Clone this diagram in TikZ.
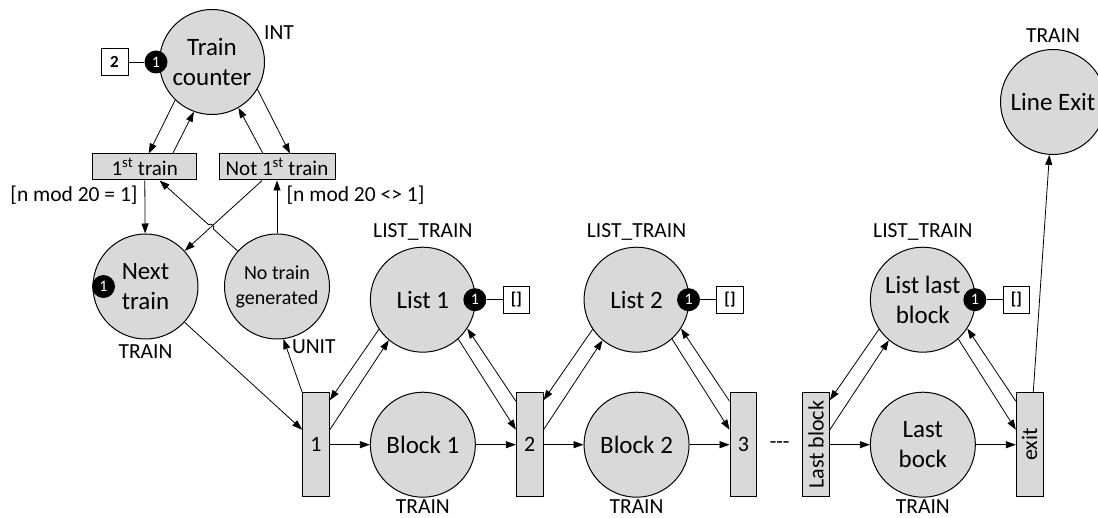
\documentclass[tikz,border=0pt]{standalone}
\usepackage{fontspec}
\setmainfont{Carlito}
\usepackage{xcolor}
\definecolor{PlaceGray}{HTML}{D9D9D9}
\usepackage{graphicx}
\usepackage{tikz}
\usetikzlibrary{arrows.meta,positioning,calc,intersections}
\newcommand{\fsz}[2]{\fontsize{#1}{#2}\selectfont}

\begin{document}
\begin{tikzpicture}[x=1pt,y=-1pt,
  place/.style={draw,circle,line width=1pt,fill=PlaceGray,minimum size=105pt,inner sep=0pt,align=center,font=\fsz{25}{30}},
  trans/.style={draw,line width=1pt,fill=PlaceGray,minimum width=26.7pt,minimum height=104pt,inner sep=0pt,font=\fsz{22}{26}},
  guardbox/.style={draw,line width=1pt,fill=PlaceGray,minimum height=26pt,inner sep=0pt,font=\fsz{21}{25}},
  token/.style={circle,fill=black,text=white,minimum size=23pt,inner sep=0pt,font=\fsz{16}{18}},
  valbox/.style={draw,line width=0.8pt,fill=white,minimum size=26.7pt,inner sep=0pt,font=\fsz{17}{20}\bfseries},
  lbl/.style={inner sep=0pt,font=\fsz{21.5}{25}},
  arr/.style={-{Triangle[length=10pt,width=7pt]},line width=0.8pt},
  node distance=40pt
]
  \useasboundingbox (0,0) rectangle (1098,518);

  % generator part
  \node[place] (counter) at (212,62) {Train\\counter};
  \node[guardbox,minimum width=104pt] (first) at (144.7,167) {1\textsuperscript{st} train};
  \node[guardbox,minimum width=116pt] (notfirst) at (277,167) {Not 1\textsuperscript{st} train};
  \node[place] (next) at (145.5,286.5) {Next\\train};
  \node[place,font=\fsz{20}{25}] (ntg) at (277,286.5) {No train\\generated};

  % line of blocks
  \node[trans] (t1) at (316,444.7) {1};
  \node[place,right=of t1] (block1) {Block 1};
  \node[trans,right=of block1] (t2) {2};
  \node[place,right=of t2] (block2) {Block 2};
  \node[trans,right=of block2] (t3) {3};
  \node[trans] (tlast) at (816,444.7) {\rotatebox{90}{Last block}};
  \node[lbl] (dots) at ($(t3)!0.5!(tlast)$) {-{}-{}-};
  \node[place,right=of tlast] (lastbock) {Last\\bock};
  \node[trans,right=of lastbock] (exit) {\rotatebox{90}{exit}};

  \node[place,above=39pt of block1] (list1) {List 1};
  \node[place,above=39pt of block2] (list2) {List 2};
  \node[place,above=39pt of lastbock] (listlast) {List last\\block};
  \node[place] (lineexit) at (1053,102) {Line Exit};

  % initial markings
  \node[token] (tok0) at ([xshift=-3pt]counter.west) {1};
  \node[valbox,left=16pt of tok0] (val0) {2};
  \draw[line width=0.8pt] (val0) -- (tok0);
  \node[token] (tok1) at ([xshift=11pt]next.west) {1};
  \foreach \p/\q in {list1/1,list2/2,listlast/3} {
    \node[token] (tokl\q) at ([xshift=-1pt]\p.east) {1};
    \node[valbox,right=16pt of tokl\q] (vall\q) {[]};
    \draw[line width=0.8pt] (vall\q) -- (tokl\q);
  }

  % colour sets and guards
  \node[lbl] (countertype) at (279,33) {INT};
  \node[lbl,above=6pt of lineexit] (exittype) {TRAIN};
  \node[lbl,below=5pt of next] (nexttype) {TRAIN};
  \node[lbl] (ntgtype) at (313.8,346.7) {UNIT};
  \foreach \p in {list1,list2,listlast}
    \node[lbl,above=6pt of \p] (\p type) {LIST\_TRAIN};
  \foreach \p in {block1,block2,lastbock}
    \node[lbl,below=2pt of \p] (\p type) {TRAIN};
  \node[lbl] (guard1) at (74,195) {[n mod 20 = 1]};
  \node[lbl] (guard2) at (355.5,195) {[n mod 20 <> 1]};

  % arcs of the generator
  \draw[arr] (counter.226) -- ([xshift=4pt]first.north);
  \draw[arr] ([xshift=28pt]first.north) -- (counter.250);
  \draw[arr] ([xshift=-14pt]notfirst.north) -- (counter.300);
  \draw[arr] (counter.329) -- ([xshift=13pt]notfirst.north);
  \draw[arr] (first) -- (next);
  \draw[arr] (ntg) -- (notfirst);
  \draw[arr,name path=cross] (notfirst) -- (next);
  \path[name path=back] (ntg) -- (first);
  \draw[arr,name intersections={of=cross and back,by=hop}]
    (ntg) -- ($(hop)!3pt!(ntg)$) to[bend right=90,looseness=1.4] ($(hop)!3pt!(first)$) -- (first);
  \draw[arr] (next) -- ([yshift=15pt]t1.west);
  \draw[arr] (t1.north west) -- (ntg.277);

  % arcs along the line
  \draw[arr] (t1) -- (block1);
  \draw[arr] (block1) -- (t2);
  \draw[arr] (t2) -- (block2);
  \draw[arr] (block2) -- (t3);
  \draw[arr] (tlast) -- (lastbock);
  \draw[arr] (lastbock) -- (exit);
  \foreach \l/\a/\b in {list1/t1/t2,list2/t2/t3,listlast/tlast/exit} {
    \draw[arr] (\l.214) -- ([yshift=-8pt]\a.north east);
    \draw[arr] ([yshift=15pt]\a.east) -- (\l.230);
    \draw[arr] (\l.312) -- ([yshift=15pt]\b.west);
    \draw[arr] ([yshift=-9pt]\b.north west) -- (\l.327);
  }
  \draw[arr] (exit) -- (lineexit);
\end{tikzpicture}
\end{document}
